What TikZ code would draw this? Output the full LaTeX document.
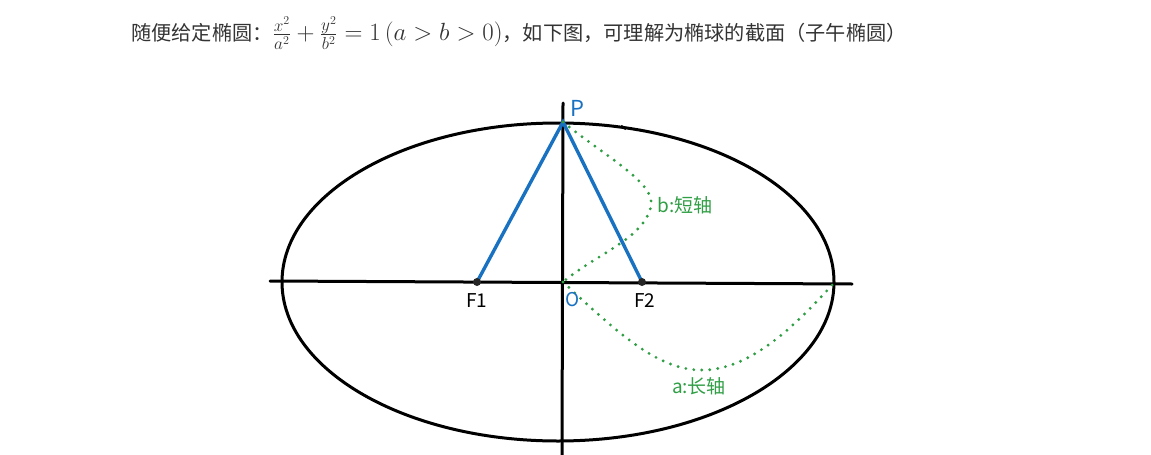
\documentclass[tikz,border=0pt]{standalone}
\usepackage[no-math]{fontspec}
\setmainfont{Noto Sans CJK SC}
\usepackage{tikz}
\usetikzlibrary{positioning}

\definecolor{sketchblue}{HTML}{1971C2}
\definecolor{sketchgreen}{HTML}{2F9E44}
\definecolor{titlegray}{HTML}{333333}

\tikzset{
  axisline/.style={line width=3pt, black, line cap=round},
  focusline/.style={line width=3.4pt, sketchblue, line cap=round},
  greendots/.style={sketchgreen, line width=3.2pt, line cap=round, dash pattern=on 0pt off 8pt},
  handlabel/.style={font=\fontsize{19}{19}\selectfont},
}

\begin{document}
\begin{tikzpicture}[x=1pt, y=-1pt]
\useasboundingbox (0,0) rectangle (1151,455);

\node[anchor=west, inner sep=0pt, text=titlegray, font=\fontsize{20.2}{22}\selectfont] (title) at (131,33)
  {随便给定椭圆：{\fontsize{26.2}{26}\selectfont$\frac{x^2}{a^2}+\frac{y^2}{b^2}=1\,(a>b>0)$}，如下图，可理解为椭球的截面（子午椭圆）};

\coordinate (C) at (558,282);
\coordinate (O) at (563,282);
\coordinate (P) at (563,122);
\coordinate (F1) at (477,282);
\coordinate (F2) at (642,282);
\coordinate (R) at (834,283);
\coordinate (axL) at (270,281);
\coordinate (axR) at (852,284);
\coordinate (axT) at (563,103);
\coordinate (axB) at (562,455);

% ellipse and axes
\draw[axisline] (C) ellipse (276 and 159);
\draw[axisline] (axL) -- (axR);
\draw[axisline] (axT) -- (axB);
\draw[line width=2.4pt] (621,126) -- (626,129);

% P, F1, F2
\draw[focusline] (F1) -- (P) -- (F2);
\fill[black!85] (F1) circle (4);
\fill[black!85] (F2) circle (4);

% semi-axes
\draw[greendots] (P) .. controls (610,160) and (660,185) .. (650,210)
  .. controls (640,240) and (595,255) .. (O);
\draw[greendots] (O) .. controls (620,335) and (660,372) .. (705,370)
  .. controls (755,368) and (800,320) .. (R);

\node[handlabel, text=sketchblue, font=\fontsize{22}{22}\selectfont] (lblP) at (577,108) {P};
\node[handlabel, text=sketchblue] (lblO) at (573,300) {O};
\node[handlabel] (lblF1) at (477,301) {F1};
\node[handlabel] (lblF2) at (645,301) {F2};
\node[handlabel, text=sketchgreen] (lblb) at (685,205) {b:短轴};
\node[handlabel, text=sketchgreen] (lbla) at (699,386) {a:长轴};
\end{tikzpicture}
\end{document}
